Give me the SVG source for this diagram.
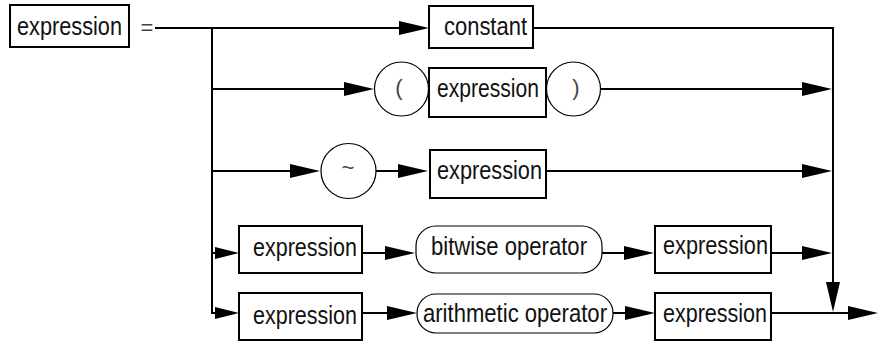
<svg xmlns="http://www.w3.org/2000/svg" width="879" height="341" viewBox="0 0 879 341">
<style>
.box{fill:#fff;stroke:#000;stroke-width:2}
.circ{fill:#fff;stroke:#000;stroke-width:1.2}
.pill{fill:#fff;stroke:#000;stroke-width:1.2}
.t{font-family:"Liberation Sans Narrow","Liberation Sans",Arial,sans-serif;font-size:26px;fill:#111}
.s{font-family:"Liberation Sans",Arial,sans-serif;fill:#444}
.c{fill:none;stroke:#000;stroke-width:2;stroke-linejoin:miter}
.a{marker-end:url(#arr)}
.as{marker-end:url(#arrS)}
</style>
<defs>
<marker id="arr" markerUnits="userSpaceOnUse" markerWidth="30" markerHeight="16" refX="25" refY="8" orient="auto">
<path d="M0,1 L30,8 L0,15 z" fill="#000"/>
</marker>
<marker id="arrS" markerUnits="userSpaceOnUse" markerWidth="24" markerHeight="16" refX="19" refY="8" orient="auto">
<path d="M0,2 L24,8 L0,14 z" fill="#000"/>
</marker>
</defs>
<g id="connectors">
<path class="c a" d="M155,28 H424"/>
<path class="c a" d="M533,28 H833 V307"/>
<path class="c as" d="M212,28 V313 H234"/>
<path class="c a" d="M212,89 H369"/>
<path class="c a" d="M600,89 H827"/>
<path class="c a" d="M212,171 H315"/>
<path class="c a" d="M376,171 H423"/>
<path class="c a" d="M546,171 H827"/>
<path class="c as" d="M212,253 H234"/>
<path class="c a" d="M362,253 H410"/>
<path class="c a" d="M602,253 H649"/>
<path class="c a" d="M771,253 H827"/>
<path class="c a" d="M362,313 H412"/>
<path class="c a" d="M613,313 H650"/>
<path class="c a" d="M771,313 H873"/>
</g>
<g id="head">
<rect class="box" x="10" y="5" width="119" height="42"/>
<text class="t" x="17" y="35" font-size="25" textLength="105" lengthAdjust="spacingAndGlyphs" style="font-size:25px">expression</text>
<text class="s" x="147" y="35" font-size="22" text-anchor="middle">=</text>
</g>
<g id="constant">
<rect class="box" x="429" y="6" width="104" height="42"/>
<text class="t" x="444" y="35" textLength="83" lengthAdjust="spacingAndGlyphs">constant</text>
</g>
<g id="lparen">
<circle class="circ" cx="401.5" cy="89" r="27"/>
<text class="s" x="399" y="95" font-size="22" text-anchor="middle">(</text>
</g>
<g id="expr2">
<rect class="box" x="429" y="68" width="117" height="49"/>
<text class="t" x="437" y="97" textLength="102" lengthAdjust="spacingAndGlyphs">expression</text>
</g>
<g id="rparen">
<circle class="circ" cx="573.5" cy="89" r="27"/>
<text class="s" x="576" y="95" font-size="22" text-anchor="middle">)</text>
</g>
<g id="tilde">
<circle class="circ" cx="348.5" cy="171" r="27.5"/>
<text class="s" x="348" y="175" font-size="22" text-anchor="middle">~</text>
</g>
<g id="expr3">
<rect class="box" x="430" y="150" width="116" height="48"/>
<text class="t" x="437" y="179" textLength="105" lengthAdjust="spacingAndGlyphs">expression</text>
</g>
<g id="expr4a">
<rect class="box" x="239" y="226" width="123" height="47"/>
<text class="t" x="253" y="256" textLength="104" lengthAdjust="spacingAndGlyphs">expression</text>
</g>
<g id="bitwise">
<rect class="pill" x="416" y="226" width="186" height="47" rx="20" ry="20"/>
<text class="t" x="431" y="255" textLength="156" lengthAdjust="spacingAndGlyphs">bitwise operator</text>
</g>
<g id="expr4b">
<rect class="box" x="655" y="226" width="116" height="47"/>
<text class="t" x="663" y="254" textLength="105" lengthAdjust="spacingAndGlyphs">expression</text>
</g>
<g id="expr5a">
<rect class="box" x="239" y="293" width="123" height="47"/>
<text class="t" x="253" y="324" textLength="104" lengthAdjust="spacingAndGlyphs">expression</text>
</g>
<g id="arith">
<rect class="pill" x="417" y="294" width="196" height="39" rx="19" ry="19"/>
<text class="t" x="423" y="322" textLength="184" lengthAdjust="spacingAndGlyphs">arithmetic operator</text>
</g>
<g id="expr5b">
<rect class="box" x="655" y="293" width="116" height="47"/>
<text class="t" x="663" y="322" textLength="104" lengthAdjust="spacingAndGlyphs">expression</text>
</g>
</svg>
